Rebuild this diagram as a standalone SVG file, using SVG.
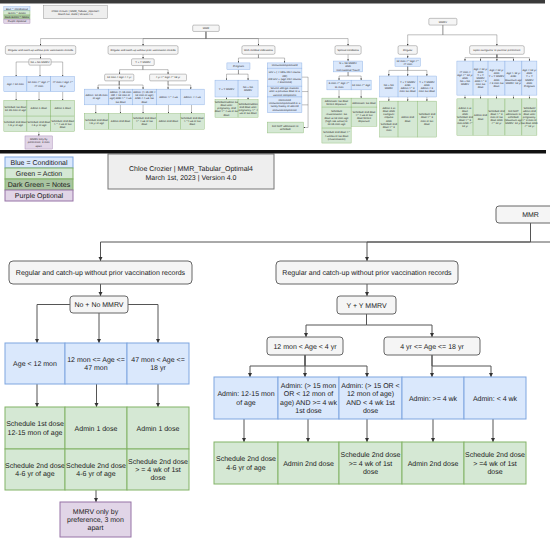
<svg xmlns="http://www.w3.org/2000/svg" width="550" height="541" viewBox="0 0 550 541">
<style>
.gy{fill:#f5f5f5;stroke:#666;stroke-width:1}
.bl{fill:#dae8fc;stroke:#7ea6e0;stroke-width:1}
.gn{fill:#d5e8d4;stroke:#82b366;stroke-width:1}
.pu{fill:#e1d5e7;stroke:#9673a6;stroke-width:1}
.dg{fill:#a9c4a0;stroke:#82b366;stroke-width:1}
.tt{fill:#eeeeee;stroke:#777;stroke-width:1}
.cn path{fill:none;stroke:#555;stroke-width:1;marker-end:url(#ah)}
.cn path.na{marker-end:none}
text{font-family:"Liberation Sans",Arial,Helvetica,sans-serif;font-size:7px;fill:#1a1a1a;text-anchor:middle;text-rendering:geometricPrecision}
</style>
<defs>
<marker id="ah" viewBox="0 0 10 10" refX="10" refY="5" markerWidth="4.5" markerHeight="4.5" markerUnits="userSpaceOnUse" orient="auto"><path d="M0,0 L10,5 L0,10 z" fill="#333"/></marker>
<clipPath id="clipTop" clipPathUnits="userSpaceOnUse"><rect x="0" y="0" width="550" height="150"/></clipPath>
<clipPath id="clipBottom" clipPathUnits="userSpaceOnUse"><rect x="0" y="153" width="550" height="388"/></clipPath>
</defs>
<rect x="0" y="0" width="550" height="541" fill="#ffffff"/>
<g id="overview" clip-path="url(#clipTop)">
<g transform="matrix(0.3846,0,0,0.3745,1.923,-52.06)">
<g id="ov-legend">
<rect class="bl" x="5" y="157" width="68" height="11"/><text x="39" y="165">Blue = Conditional</text>
<rect class="gn" x="5" y="168" width="68" height="11"/><text x="39" y="176">Green = Action</text>
<rect class="dg" x="5" y="179" width="68" height="11"/><text x="39" y="187">Dark Green = Notes</text>
<rect class="pu" x="5" y="190" width="68" height="11"/><text x="39" y="198">Purple Optional</text>
</g>
<g id="ov-title"><rect class="tt" x="108" y="154" width="166" height="35"/><text x="191" y="171">Chloe Crozier | MMR_Tabular_Optimal4</text><text x="191" y="179.5">March 1st, 2023 | Version 4.0</text></g>
<g class="cn" id="ov-connectors">
<path d="M530.5,223 V242 H100.5 V261"/><path d="M530.5,223 V242 H367 V261"/><path d="M530.5,223 V242 H667 V261"/><path d="M530.5,223 V242 H900 V261"/>
<path d="M100.5,284 V296"/><path d="M70,304.5 H37 V343"/><path d="M99,313 V343"/><path d="M128,304.5 H158 V343"/>
<path d="M37,384 V407"/><path d="M96.5,384 V407"/><path d="M158,384 V407"/><path d="M96,490 V502"/>
<path d="M367,284 V296"/><path d="M366.5,314 V325 H306 V337"/><path d="M366.5,314 V325 H432 V337"/>
<path d="M305,355 V366 H250 V377"/><path d="M305,355 V377"/><path d="M305,355 V366 H367 V377"/>
<path d="M432,355 V377"/><path d="M432,355 V366 H491 V377"/>
<path d="M244,419 V442"/><path d="M308,419 V442"/><path d="M367,419 V442"/><path d="M433,419 V442"/><path d="M493,419 V442"/>
<path d="M667,284 V294 H615 V307"/><path d="M667,284 V294 H735 V307"/>
<path d="M615,325 V337 H584 V353"/><path d="M615,325 V337 H640 V353"/>
<path d="M584,398 V405"/><path d="M640,398 V405"/>
<path d="M780,345 H796 V479.5 H784"/><path class="na" d="M780,383.5 H796"/><path class="na" d="M780,419 H796"/>
<path d="M900,284 V302"/><path d="M900,331 V342 H876.5 V353"/><path d="M900,331 V342 H934 V353"/>
<path d="M876.5,379 V401"/><path d="M934,379 V401"/>
<path d="M1146.5,206 V232 H1055 V261"/><path d="M1146.5,206 V232 H1287 V261"/>
<path d="M1055,284 V294"/><path d="M1055,316 V327 H1006 V342"/><path d="M1055,316 V342"/><path d="M1055,316 V327 H1105 V342"/>
<path d="M1006,398 V409"/><path d="M1055,398 V409"/><path d="M1105,398 V409"/>
<path d="M1287,284 V293 H1204 V302"/><path d="M1287,284 V293 H1244.5 V302"/><path d="M1287,284 V302"/><path d="M1287,284 V293 H1330 V302"/><path d="M1287,284 V293 H1371.5 V302"/>
<path d="M1204,393 V403"/><path d="M1244.5,393 V403"/><path d="M1286,393 V403"/><path d="M1330,393 V403"/><path d="M1371.5,393 V403"/>
</g>
<g id="ov-mmr"><rect class="gy" x="496" y="206" width="69" height="17" rx="3"/><text x="530.5" y="217">MMR</text></g>
<g id="ov-reg-left"><rect class="gy" x="9" y="261" width="183" height="23" rx="4"/><text x="100.5" y="275">Regular and catch-up without prior vaccination records</text></g>
<g id="ov-no-no-mmrv"><rect class="gy" x="70" y="296" width="58" height="17" rx="3"/><text x="99" y="307">No + No MMRV</text></g>
<g id="ov-l-cond">
<rect class="bl" x="5" y="343" width="60" height="41"/><text x="35" y="366">Age &lt; 12 mon</text>
<rect class="bl" x="65" y="343" width="62" height="41"/><text x="96" y="361.8">12 mon &lt;= Age &lt;=</text><text x="96" y="370.2">47 mon</text>
<rect class="bl" x="127" y="343" width="62" height="41"/><text x="158" y="361.8">47 mon &lt; Age &lt;=</text><text x="158" y="370.2">18 yr</text>
</g>
<g id="ov-l-action">
<rect class="gn" x="5" y="407" width="60" height="42"/><text x="35" y="426.3">Schedule 1st dose</text><text x="35" y="434.7">12-15 mon of age</text>
<rect class="gn" x="65" y="407" width="62" height="42"/><text x="96" y="430.5">Admin 1 dose</text>
<rect class="gn" x="127" y="407" width="62" height="42"/><text x="158" y="430.5">Admin 1 dose</text>
<rect class="gn" x="5" y="449" width="60" height="41"/><text x="35" y="467.8">Schedule 2nd dose</text><text x="35" y="476.2">4-6 yr of age</text>
<rect class="gn" x="65" y="449" width="62" height="41"/><text x="96" y="467.8">Schedule 2nd dose</text><text x="96" y="476.2">4-6 yr of age</text>
<rect class="gn" x="127" y="449" width="62" height="41"/><text x="158" y="463.6">Schedule 2nd dose</text><text x="158" y="472">&gt; = 4 wk of 1st</text><text x="158" y="480.4">dose</text>
</g>
<g id="ov-mmrv-pref"><rect class="pu" x="60" y="502" width="71" height="35"/><text x="95.5" y="513.6">MMRV only by</text><text x="95.5" y="522">preference, 3 mon</text><text x="95.5" y="530.4">apart</text></g>
<g id="ov-reg-right"><rect class="gy" x="276" y="261" width="182" height="23" rx="4"/><text x="367" y="275">Regular and catch-up without prior vaccination records</text></g>
<g id="ov-y-y-mmrv"><rect class="gy" x="337" y="296" width="59" height="18" rx="3"/><text x="366.5" y="307.5">Y + Y MMRV</text></g>
<g id="ov-age-12m-4y"><rect class="gy" x="267" y="337" width="76" height="18" rx="3"/><text x="305" y="348.5">12 mon &lt; Age &lt; 4 yr</text></g>
<g id="ov-age-4y-18y"><rect class="gy" x="384" y="337" width="96" height="18" rx="3"/><text x="432" y="348.5">4 yr &lt;= Age &lt;= 18 yr</text></g>
<g id="ov-r-cond">
<rect class="bl" x="214" y="377" width="64" height="42"/><text x="246" y="396.3">Admin: 12-15 mon</text><text x="246" y="404.7">of age</text>
<rect class="bl" x="278" y="377" width="61" height="42"/><text x="308.5" y="387.9">Admin: (&gt; 15 mon</text><text x="308.5" y="396.3">OR &lt; 12 mon of</text><text x="308.5" y="404.7">age) AND &gt;= 4 wk</text><text x="308.5" y="413.1">1st dose</text>
<rect class="bl" x="339" y="377" width="63" height="42"/><text x="370.5" y="387.9">Admin: (&gt; 15  OR &lt;</text><text x="370.5" y="396.3">12 mon of age)</text><text x="370.5" y="404.7">AND &lt; 4 wk 1st</text><text x="370.5" y="413.1">dose</text>
<rect class="bl" x="402" y="377" width="62" height="42"/><text x="433" y="400.5">Admin: &gt;= 4 wk</text>
<rect class="bl" x="464" y="377" width="62" height="42"/><text x="495" y="400.5">Admin: &lt; 4 wk</text>
</g>
<g id="ov-r-action">
<rect class="gn" x="214" y="442" width="64" height="42"/><text x="246" y="461.3">Schedule 2nd dose</text><text x="246" y="469.7">4-6 yr of age</text>
<rect class="gn" x="278" y="442" width="61" height="42"/><text x="308.5" y="465.5">Admin 2nd dose</text>
<rect class="gn" x="339" y="442" width="63" height="42"/><text x="370.5" y="457.1">Schedule 2nd dose</text><text x="370.5" y="465.5">&gt;= 4 wk of 1st</text><text x="370.5" y="473.9">dose</text>
<rect class="gn" x="402" y="442" width="62" height="42"/><text x="433" y="465.5">Admin 2nd dose</text>
<rect class="gn" x="464" y="442" width="62" height="42"/><text x="495" y="457.1">Schedule 2nd dose</text><text x="495" y="465.5">&gt; =4 wk of 1st</text><text x="495" y="473.9">dose</text>
</g>
<g id="ov-medical"><rect class="gy" x="624" y="261" width="86" height="23" rx="4"/><text x="667" y="275">With medical indications</text></g>
<g id="ov-pregnant"><rect class="bl" x="585" y="307" width="60" height="18"/><text x="615" y="318.5">Pregnant</text></g>
<g id="ov-preg-cond">
<rect class="bl" x="554" y="353" width="60" height="45"/><text x="584" y="378">Y + Y MMRV</text>
<rect class="bl" x="614" y="353" width="52" height="45"/><text x="640" y="373.8">No + No</text><text x="640" y="382.2">MMRV</text>
</g>
<g id="ov-preg-action">
<rect class="gn" x="554" y="405" width="60" height="47"/><text x="584" y="414.2">Schedule/admin 1st</text><text x="584" y="422.6">dose after</text><text x="584" y="431">pregnancy, 2nd</text><text x="584" y="439.4">dose &gt;= 4 wk of 1st</text><text x="584" y="447.8">dose</text>
<rect class="gn" x="614" y="405" width="52" height="47"/><text x="640" y="418.4">Schedule/admin</text><text x="640" y="426.8">2nd dose after</text><text x="640" y="435.2">pregnancy, &gt;= 4</text><text x="640" y="443.6">wk of 1st dose</text>
</g>
<g id="ov-immuno">
<rect class="bl" x="690" y="307" width="90" height="14"/><text x="735" y="316.5">Immunocompromised</text>
<rect class="bl" x="690" y="321" width="90" height="48"/><text x="735" y="334.9">HIV + ( &lt; 15% CD4 counts</text><text x="735" y="343.3">OR)</text><text x="735" y="351.7">OR HIV + (age CD4 counts</text><text x="735" y="360.1">&lt; 200/mm3)</text>
<rect class="bl" x="690" y="369" width="90" height="29"/><text x="735" y="377.6">Severe allergic reaction</text><text x="735" y="386">after a previous dose or a</text><text x="735" y="394.4">vaccine component</text>
<rect class="bl" x="690" y="398" width="90" height="42"/><text x="735" y="408.9">Confirmed</text><text x="735" y="417.3">immunocompromised or a</text><text x="735" y="425.7">family history of altered</text><text x="735" y="434.1">immunocompetence</text>
</g>
<g id="ov-do-not"><rect class="gn" x="690" y="465" width="94" height="29"/><text x="737" y="477.8">DO NOT administer or</text><text x="737" y="486.2">schedule</text></g>
<g id="ov-special"><rect class="gy" x="866" y="261" width="68" height="23" rx="4"/><text x="900" y="275">Special conditions</text></g>
<g id="ov-travel"><rect class="bl" x="862" y="302" width="76" height="29"/><text x="900" y="310.6">N + No MMRV</text><text x="900" y="319">AND</text><text x="900" y="327.4">International Travel</text></g>
<g id="ov-travel-cond">
<rect class="bl" x="845" y="353" width="63" height="26"/><text x="876.5" y="364.3">6 mon &lt;= Age &lt;=</text><text x="876.5" y="372.7">11 mon</text>
<rect class="bl" x="908" y="353" width="52" height="26"/><text x="934" y="368.5">12 mon &lt;= Age</text>
</g>
<g id="ov-travel-action">
<rect class="gn" x="832" y="401" width="76" height="24"/><text x="870" y="411.3">Administer 1st dose</text><text x="870" y="419.7">before departure</text>
<rect class="gn" x="832" y="425" width="76" height="56"/><text x="870" y="438.7">Schedule</text><text x="870" y="447.1">revaccination: 1st</text><text x="870" y="455.5">dose at 12 mon age</text><text x="870" y="463.9">(high risk areas) or</text><text x="870" y="472.3">12-15 mon age</text>
<rect class="gn" x="832" y="481" width="76" height="40"/><text x="870" y="495.1">Schedule 2nd dose &gt;=</text><text x="870" y="503.5">4 weeks of 1st dose</text><text x="870" y="511.9">(revaccination)</text>
<rect class="gn" x="908" y="401" width="67" height="24"/><text x="941.5" y="415.5">Administer 1st dose</text>
<rect class="gn" x="908" y="425" width="67" height="51"/><text x="941.5" y="440.4">Schedule 2nd dose</text><text x="941.5" y="448.8">&gt;= 4 wk of 1st</text><text x="941.5" y="457.2">dose before</text><text x="941.5" y="465.6">departure</text>
</g>
<g id="ov-mmrv"><rect class="gy" x="1110" y="188" width="73" height="18" rx="3"/><text x="1146.5" y="199.5">MMRV</text></g>
<g id="ov-mmrv-regular"><rect class="gy" x="1030" y="261" width="50" height="23" rx="4"/><text x="1055" y="275">Regular</text></g>
<g id="ov-mmrv-age"><rect class="bl" x="1022" y="294" width="66" height="22"/><text x="1055" y="303.3">12 mon &lt;= Age &lt;=</text><text x="1055" y="311.7">47 mon</text></g>
<g id="ov-mmrv-reg-cond">
<rect class="bl" x="982" y="342" width="48" height="56"/><text x="1006" y="368.3">No + No</text><text x="1006" y="376.7">MMRV</text>
<rect class="bl" x="1030" y="342" width="50" height="56"/><text x="1055" y="359.9">Y + Y MMRV</text><text x="1055" y="368.3">AND</text><text x="1055" y="376.7">Admin &gt;= 3</text><text x="1055" y="385.1">mon 1st dose</text>
<rect class="bl" x="1080" y="342" width="50" height="56"/><text x="1105" y="359.9">Y + Y MMRV</text><text x="1105" y="368.3">AND</text><text x="1105" y="376.7">Admin &lt; 3</text><text x="1105" y="385.1">mon 1st dose</text>
</g>
<g id="ov-mmrv-reg-action">
<rect class="gn" x="982" y="409" width="48" height="96"/><text x="1006" y="430.1">Admin 1 st</text><text x="1006" y="438.5">dose AND</text><text x="1006" y="446.9">caregiver</text><text x="1006" y="455.3">request</text><text x="1006" y="463.7">AND</text><text x="1006" y="472.1">Schedule 2nd</text><text x="1006" y="480.5">dose &gt;= 3</text><text x="1006" y="488.9">mon</text>
<rect class="gn" x="1030" y="409" width="50" height="96"/><text x="1055" y="455.3">Admin 2nd</text><text x="1055" y="463.7">dose</text>
<rect class="gn" x="1080" y="409" width="50" height="96"/><text x="1105" y="446.9">Schedule 2nd</text><text x="1105" y="455.3">dose &gt;= 3</text><text x="1105" y="463.7">mon of 1st</text><text x="1105" y="472.1">dose</text>
</g>
<g id="ov-mmrv-pref-box"><rect class="gy" x="1216" y="261" width="142" height="23" rx="4"/><text x="1287" y="275">Upon caregivers' or parents' preference</text></g>
<g id="ov-mmrv-pref-cond">
<rect class="bl" x="1183" y="302" width="42" height="91"/><text x="1204" y="333.2">47 mon &lt;</text><text x="1204" y="341.6">Age &lt;= 12 yr</text><text x="1204" y="350">AND</text><text x="1204" y="358.4">No + No</text><text x="1204" y="366.8">MMRV</text>
<rect class="bl" x="1225" y="302" width="39" height="91"/><text x="1244.5" y="324.8">Age &lt; 12 yr</text><text x="1244.5" y="333.2">AND</text><text x="1244.5" y="341.6">Y + Y</text><text x="1244.5" y="350">MMRV</text><text x="1244.5" y="358.4">AND &gt;= 3</text><text x="1244.5" y="366.8">mon 1st</text><text x="1244.5" y="375.2">dose</text>
<rect class="bl" x="1264" y="302" width="44" height="91"/><text x="1286" y="329">Age &lt; 12 yr</text><text x="1286" y="337.4">AND</text><text x="1286" y="345.8">Y + Y MMRV</text><text x="1286" y="354.2">AND</text><text x="1286" y="362.6">&lt; 3 mon 1st</text><text x="1286" y="371">dose</text>
<rect class="bl" x="1308" y="302" width="44" height="91"/><text x="1330" y="337.4">Age &gt; 12 yr</text><text x="1330" y="345.8">AND</text><text x="1330" y="354.2">Maximum age</text><text x="1330" y="362.6">MMRV: 12 yr</text>
<rect class="bl" x="1352" y="302" width="39" height="91"/><text x="1371.5" y="329">Age &lt; 12 yr</text><text x="1371.5" y="337.4">AND</text><text x="1371.5" y="345.8">Y + Y</text><text x="1371.5" y="354.2">MMRV</text><text x="1371.5" y="362.6">AND</text><text x="1371.5" y="371">Pregnant</text>
</g>
<g id="ov-mmrv-pref-action">
<rect class="gn" x="1183" y="403" width="42" height="97"/><text x="1204" y="428.8">Admin 1 st</text><text x="1204" y="437.2">dose</text><text x="1204" y="445.6">AND</text><text x="1204" y="454">Schedule 2nd</text><text x="1204" y="462.4">dose &gt;= 3</text><text x="1204" y="470.8">mon AND &lt;=</text><text x="1204" y="479.2">12 yr</text>
<rect class="gn" x="1225" y="403" width="39" height="97"/><text x="1244.5" y="449.8">Admin 2nd</text><text x="1244.5" y="458.2">dose</text>
<rect class="gn" x="1264" y="403" width="44" height="97"/><text x="1286" y="437.2">Schedule 2nd</text><text x="1286" y="445.6">dose &gt;= 3</text><text x="1286" y="454">mon of 1st</text><text x="1286" y="462.4">dose AND</text><text x="1286" y="470.8">&lt;= 12 yr</text>
<rect class="gn" x="1308" y="403" width="44" height="97"/><text x="1330" y="437.2">DO NOT</text><text x="1330" y="445.6">administer or</text><text x="1330" y="454">schedule</text><text x="1330" y="462.4">(Maximum age</text><text x="1330" y="470.8">MMRV: 12 yr)</text>
<rect class="gn" x="1352" y="403" width="39" height="97"/><text x="1371.5" y="428.8">Schedule/</text><text x="1371.5" y="437.2">admin 2nd</text><text x="1371.5" y="445.6">dose after</text><text x="1371.5" y="454">pregnancy,</text><text x="1371.5" y="462.4">&gt;= 3 mon of</text><text x="1371.5" y="470.8">1st dose AND</text><text x="1371.5" y="479.2">&lt;= 12 yr</text>
</g>
</g>
</g>
<rect id="top-bar" x="0" y="0" width="545" height="3.5" fill="#3a3a3a"/>
<g id="zoomed" clip-path="url(#clipBottom)">
<g id="legend">
<rect class="bl" x="5" y="157" width="68" height="11"/><text x="39" y="165">Blue = Conditional</text>
<rect class="gn" x="5" y="168" width="68" height="11"/><text x="39" y="176">Green = Action</text>
<rect class="dg" x="5" y="179" width="68" height="11"/><text x="39" y="187">Dark Green = Notes</text>
<rect class="pu" x="5" y="190" width="68" height="11"/><text x="39" y="198">Purple Optional</text>
</g>
<g id="title"><rect class="tt" x="108" y="154" width="166" height="35"/><text x="191" y="171">Chloe Crozier | MMR_Tabular_Optimal4</text><text x="191" y="179.5">March 1st, 2023 | Version 4.0</text></g>
<g class="cn" id="connectors">
<path d="M530.5,223 V242 H100.5 V261"/><path d="M530.5,223 V242 H367 V261"/><path class="na" d="M530.5,223 V242 H552"/>
<path d="M100.5,284 V296"/><path d="M70,304.5 H37 V343"/><path d="M99,313 V343"/><path d="M128,304.5 H158 V343"/>
<path d="M37,384 V407"/><path d="M96.5,384 V407"/><path d="M158,384 V407"/><path d="M96,490 V502"/>
<path d="M367,284 V296"/><path d="M366.5,314 V325 H306 V337"/><path d="M366.5,314 V325 H432 V337"/>
<path d="M305,355 V366 H250 V377"/><path d="M305,355 V377"/><path d="M305,355 V366 H367 V377"/>
<path d="M432,355 V377"/><path d="M432,355 V366 H491 V377"/>
<path d="M244,419 V442"/><path d="M308,419 V442"/><path d="M367,419 V442"/><path d="M433,419 V442"/><path d="M493,419 V442"/>
</g>
<g id="mmr"><rect class="gy" x="496" y="206" width="69" height="17" rx="3"/><text x="530.5" y="217">MMR</text></g>
<g id="reg-left"><rect class="gy" x="9" y="261" width="183" height="23" rx="4"/><text x="100.5" y="275">Regular and catch-up without prior vaccination records</text></g>
<g id="no-no-mmrv"><rect class="gy" x="70" y="296" width="58" height="17" rx="3"/><text x="99" y="307">No + No MMRV</text></g>
<g id="l-cond">
<rect class="bl" x="5" y="343" width="60" height="41"/><text x="35" y="366">Age &lt; 12 mon</text>
<rect class="bl" x="65" y="343" width="62" height="41"/><text x="96" y="361.8">12 mon &lt;= Age &lt;=</text><text x="96" y="370.2">47 mon</text>
<rect class="bl" x="127" y="343" width="62" height="41"/><text x="158" y="361.8">47 mon &lt; Age &lt;=</text><text x="158" y="370.2">18 yr</text>
</g>
<g id="l-action">
<rect class="gn" x="5" y="407" width="60" height="42"/><text x="35" y="426.3">Schedule 1st dose</text><text x="35" y="434.7">12-15 mon of age</text>
<rect class="gn" x="65" y="407" width="62" height="42"/><text x="96" y="430.5">Admin 1 dose</text>
<rect class="gn" x="127" y="407" width="62" height="42"/><text x="158" y="430.5">Admin 1 dose</text>
<rect class="gn" x="5" y="449" width="60" height="41"/><text x="35" y="467.8">Schedule 2nd dose</text><text x="35" y="476.2">4-6 yr of age</text>
<rect class="gn" x="65" y="449" width="62" height="41"/><text x="96" y="467.8">Schedule 2nd dose</text><text x="96" y="476.2">4-6 yr of age</text>
<rect class="gn" x="127" y="449" width="62" height="41"/><text x="158" y="463.6">Schedule 2nd dose</text><text x="158" y="472">&gt; = 4 wk of 1st</text><text x="158" y="480.4">dose</text>
</g>
<g id="mmrv-pref"><rect class="pu" x="60" y="502" width="71" height="35"/><text x="95.5" y="513.6">MMRV only by</text><text x="95.5" y="522">preference, 3 mon</text><text x="95.5" y="530.4">apart</text></g>
<g id="reg-right"><rect class="gy" x="276" y="261" width="182" height="23" rx="4"/><text x="367" y="275">Regular and catch-up without prior vaccination records</text></g>
<g id="y-y-mmrv"><rect class="gy" x="337" y="296" width="59" height="18" rx="3"/><text x="366.5" y="307.5">Y + Y MMRV</text></g>
<g id="age-12m-4y"><rect class="gy" x="267" y="337" width="76" height="18" rx="3"/><text x="305" y="348.5">12 mon &lt; Age &lt; 4 yr</text></g>
<g id="age-4y-18y"><rect class="gy" x="384" y="337" width="96" height="18" rx="3"/><text x="432" y="348.5">4 yr &lt;= Age &lt;= 18 yr</text></g>
<g id="r-cond">
<rect class="bl" x="214" y="377" width="64" height="42"/><text x="246" y="396.3">Admin: 12-15 mon</text><text x="246" y="404.7">of age</text>
<rect class="bl" x="278" y="377" width="61" height="42"/><text x="308.5" y="387.9">Admin: (&gt; 15 mon</text><text x="308.5" y="396.3">OR &lt; 12 mon of</text><text x="308.5" y="404.7">age) AND &gt;= 4 wk</text><text x="308.5" y="413.1">1st dose</text>
<rect class="bl" x="339" y="377" width="63" height="42"/><text x="370.5" y="387.9">Admin: (&gt; 15  OR &lt;</text><text x="370.5" y="396.3">12 mon of age)</text><text x="370.5" y="404.7">AND &lt; 4 wk 1st</text><text x="370.5" y="413.1">dose</text>
<rect class="bl" x="402" y="377" width="62" height="42"/><text x="433" y="400.5">Admin: &gt;= 4 wk</text>
<rect class="bl" x="464" y="377" width="62" height="42"/><text x="495" y="400.5">Admin: &lt; 4 wk</text>
</g>
<g id="r-action">
<rect class="gn" x="214" y="442" width="64" height="42"/><text x="246" y="461.3">Schedule 2nd dose</text><text x="246" y="469.7">4-6 yr of age</text>
<rect class="gn" x="278" y="442" width="61" height="42"/><text x="308.5" y="465.5">Admin 2nd dose</text>
<rect class="gn" x="339" y="442" width="63" height="42"/><text x="370.5" y="457.1">Schedule 2nd dose</text><text x="370.5" y="465.5">&gt;= 4 wk of 1st</text><text x="370.5" y="473.9">dose</text>
<rect class="gn" x="402" y="442" width="62" height="42"/><text x="433" y="465.5">Admin 2nd dose</text>
<rect class="gn" x="464" y="442" width="62" height="42"/><text x="495" y="457.1">Schedule 2nd dose</text><text x="495" y="465.5">&gt; =4 wk of 1st</text><text x="495" y="473.9">dose</text>
</g>
</g>
<rect id="separator" x="0" y="150" width="546" height="3.5" fill="#111111"/>
</svg>
